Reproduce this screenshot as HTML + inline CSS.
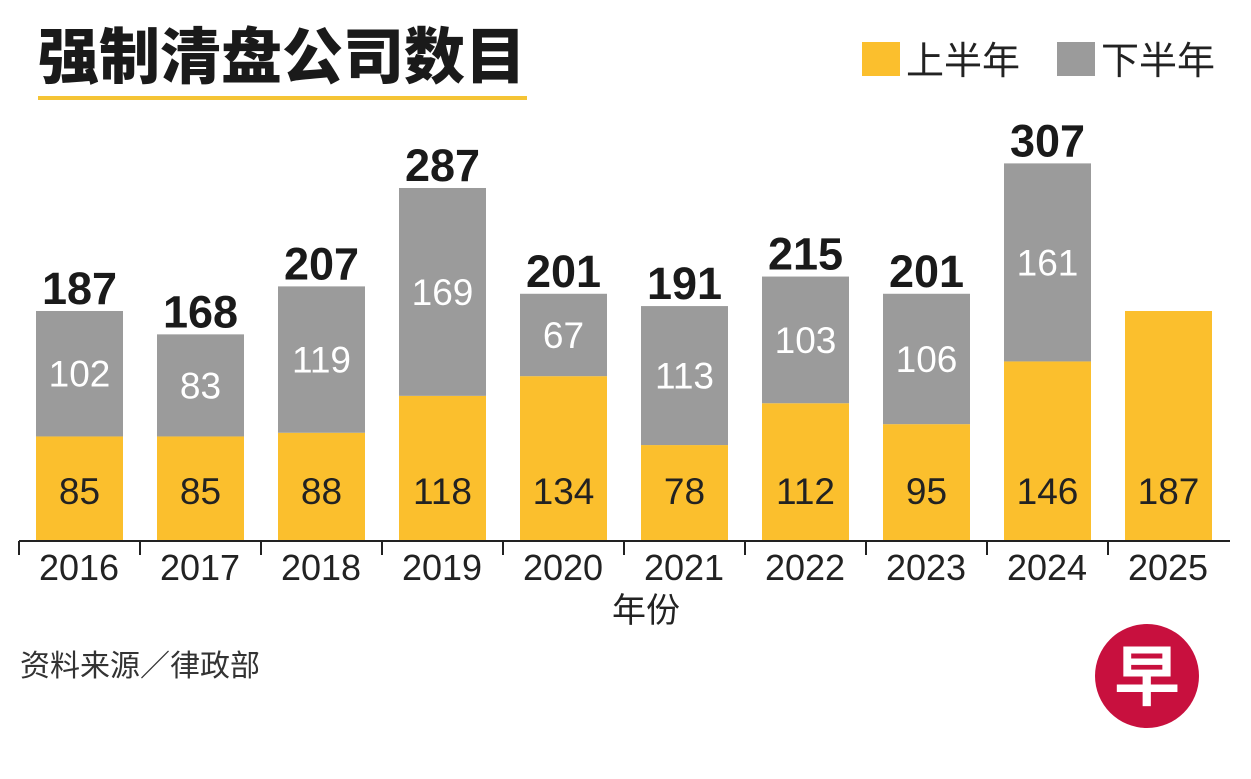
<!DOCTYPE html>
<html><head><meta charset="utf-8"><style>
body{margin:0;background:#fff;}
svg{display:block;font-family:"Liberation Sans","Noto Sans CJK SC",sans-serif;}
</style></head><body>
<svg id="c" width="1251" height="779" viewBox="0 0 1251 779">
<text x="38" y="78" font-size="61" font-weight="900" fill="#1a1a1a" font-family="'Noto Sans CJK SC',sans-serif">强制清盘公司数目</text>
<rect x="38" y="96" width="489" height="4" fill="#f5c435"/>
<rect x="862" y="42" width="38" height="34" fill="#fbbf2d"/>
<text x="906" y="74" font-size="38" fill="#222" font-family="'Noto Sans CJK SC',sans-serif">上半年</text>
<rect x="1057" y="42" width="38" height="34" fill="#9b9b9b"/>
<text x="1101" y="74" font-size="38" fill="#222" font-family="'Noto Sans CJK SC',sans-serif">下半年</text>
<g id="bars"></g>
<line x1="19" y1="541" x2="1230" y2="541" stroke="#222" stroke-width="2"/>
<text x="646" y="622" font-size="34" fill="#222" text-anchor="middle" font-family="'Noto Sans CJK SC',sans-serif">年份</text>
<text x="20" y="676" font-size="30" fill="#333" font-family="'Noto Sans CJK SC',sans-serif">资料来源／律政部</text>
<g>
<circle cx="1147" cy="676" r="52" fill="#c8103e"/>
<text x="1147" y="700" font-size="66" font-weight="bold" fill="#fff" text-anchor="middle" font-family="'Noto Sans CJK SC',sans-serif">早</text>
</g>
</svg>
<script>
const years=["2016","2017","2018","2019","2020","2021","2022","2023","2024","2025"];
const h1=[85,85,88,118,134,78,112,95,146,187];
const h2=[102,83,119,169,67,113,103,106,161,null];
const totals=[187,168,207,287,201,191,215,201,307,null];
const NS="http://www.w3.org/2000/svg";
const g=document.getElementById('bars');
const base=541,k=1.23,step=121,x0=19,bw=87,off=17;
const y=v=>base-v*k;
function mk(t,a){const e=document.createElementNS(NS,t);for(const n in a)e.setAttribute(n,a[n]);g.appendChild(e);return e;}
years.forEach((yr,i)=>{
  const x=x0+i*step+off, cx=x+bw/2;
  const t=mk('line',{x1:x0+i*step,y1:base,x2:x0+i*step,y2:555,stroke:'#222','stroke-width':2});
  
  
  const r1=mk('rect',{x:x,y:y(h1[i]),width:bw,height:h1[i]*k,fill:'#fbbf2d'});
  
  
  const l1=mk('text',{x:cx,y:504,'font-size':37,fill:'#222','text-anchor':'middle'});
  l1.textContent=h1[i];
  
  
  if(h2[i]!=null){
    const top=y(h1[i]+h2[i]);
    const r2=mk('rect',{x:x,y:top,width:bw,height:h2[i]*k,fill:'#9b9b9b'});
    
    
    const l2=mk('text',{x:cx,y:(top+y(h1[i]))/2+13,'font-size':37,fill:'#fff','text-anchor':'middle'});
    l2.textContent=h2[i];
    
    
  }
  if(totals[i]!=null){
    const lt=mk('text',{x:cx,y:y(totals[i])-7,'font-size':45,'font-weight':'bold',fill:'#1a1a1a','text-anchor':'middle'});
    lt.textContent=totals[i];
    
    
  }
  const yl=mk('text',{x:x0+i*step+60,y:580,'font-size':36,fill:'#222','text-anchor':'middle'});
  yl.textContent=yr;
  
  
});
</script>
</body></html>
